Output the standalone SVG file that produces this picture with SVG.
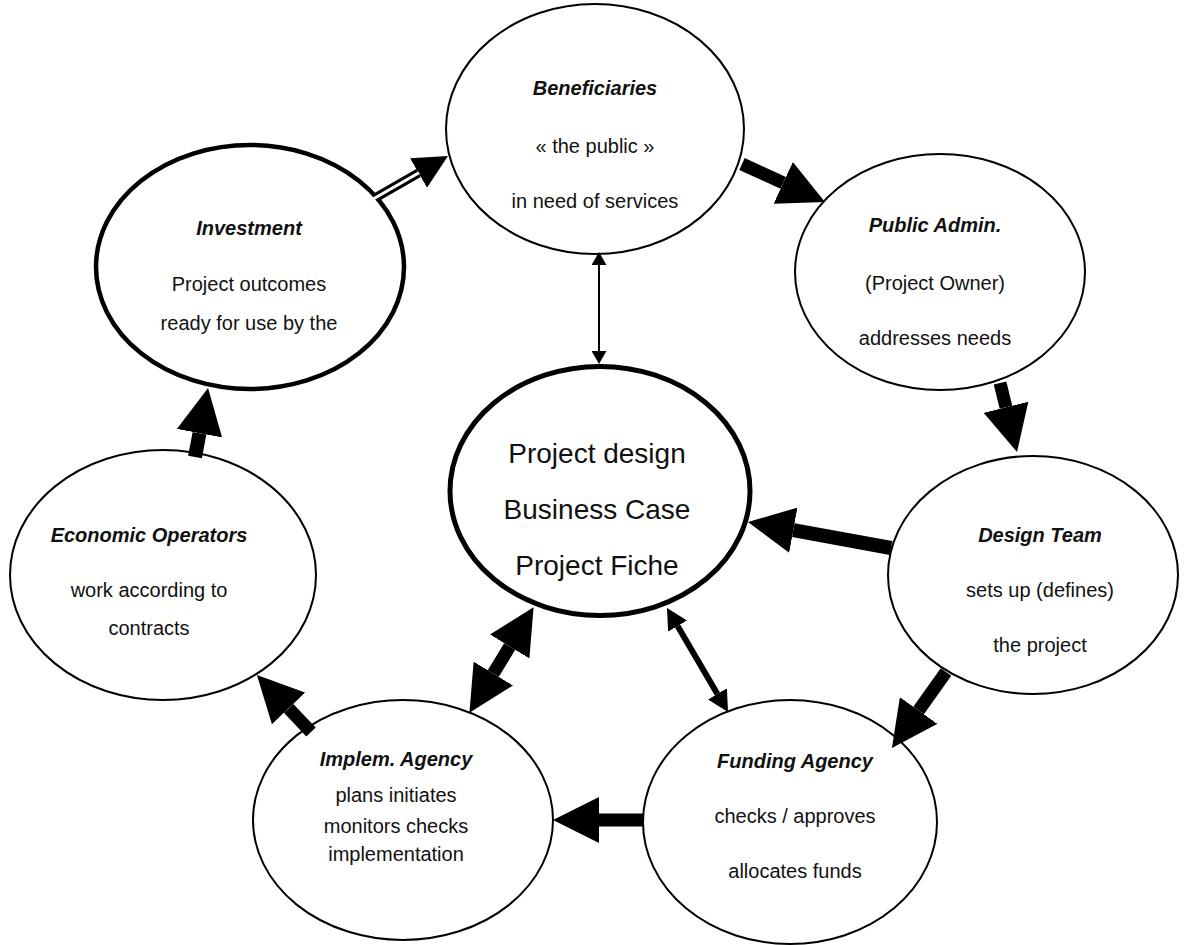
<svg xmlns="http://www.w3.org/2000/svg" width="1189" height="945" viewBox="0 0 1189 945">
<style>
.n{fill:#fff;stroke:#000;stroke-width:2}
.thick{stroke-width:4.5}
.t{font-family:"Liberation Sans",Arial,sans-serif;font-size:20px;text-anchor:middle;fill:#111}
.h{font-weight:bold;font-style:italic}
.c{font-size:28px}
.a{stroke:#000;fill:none}
</style>
<defs>
<marker id="big" markerUnits="userSpaceOnUse" viewBox="0 -23 46 46" markerWidth="46" markerHeight="46" refX="0" refY="0" orient="auto-start-reverse"><path d="M0,-23 L46,0 L0,23 z" fill="#000"/></marker>
<marker id="mid" markerUnits="userSpaceOnUse" viewBox="0 -17 34 34" markerWidth="34" markerHeight="34" refX="0" refY="0" orient="auto"><path d="M0,-17 L34,0 L0,17 z" fill="#000"/></marker>
<marker id="sm" markerUnits="userSpaceOnUse" viewBox="0 -11 21 22" markerWidth="21" markerHeight="22" refX="0" refY="0" orient="auto-start-reverse"><path d="M0,-11 L21,0 L0,11 z" fill="#000"/></marker>
<marker id="xs" markerUnits="userSpaceOnUse" viewBox="0 -7.5 13 15" markerWidth="13" markerHeight="15" refX="0" refY="0" orient="auto-start-reverse"><path d="M0,-7.5 L13,0 L0,7.5 z" fill="#000"/></marker>
</defs>
<g id="beneficiaries"><ellipse class="n" cx="595" cy="129" rx="149" ry="125"/>
<text class="t h" x="595" y="95">Beneficiaries</text><text class="t" x="595" y="153">« the public »</text><text class="t" x="595" y="208">in need of services</text></g>
<g id="investment"><ellipse class="n thick" cx="250" cy="267" rx="154" ry="122"/>
<text class="t h" x="249" y="235">Investment</text><text class="t" x="249" y="291">Project outcomes</text><text class="t" x="249" y="330">ready for use by the</text></g>
<g id="public-admin"><ellipse class="n" cx="940" cy="272" rx="145" ry="118"/>
<text class="t h" x="935" y="232">Public Admin.</text><text class="t" x="935" y="290">(Project Owner)</text><text class="t" x="935" y="345">addresses needs</text></g>
<g id="design-team"><ellipse class="n" cx="1033" cy="575" rx="145" ry="119"/>
<text class="t h" x="1040" y="542">Design Team</text><text class="t" x="1040" y="597">sets up (defines)</text><text class="t" x="1040" y="652">the project</text></g>
<g id="funding-agency"><ellipse class="n" cx="790" cy="822" rx="147" ry="122"/>
<text class="t h" x="795" y="768">Funding Agency</text><text class="t" x="795" y="823">checks / approves</text><text class="t" x="795" y="878">allocates funds</text></g>
<g id="implem-agency"><ellipse class="n" cx="403" cy="820" rx="150" ry="120"/>
<text class="t h" x="396" y="766">Implem. Agency</text><text class="t" x="396" y="802">plans initiates</text><text class="t" x="396" y="833">monitors checks</text><text class="t" x="396" y="861">implementation</text></g>
<g id="economic-operators"><ellipse class="n" cx="163" cy="575" rx="153" ry="125"/>
<text class="t h" x="149" y="542">Economic Operators</text><text class="t" x="149" y="597">work according to</text><text class="t" x="149" y="635">contracts</text></g>
<g id="project-design"><ellipse class="n" style="stroke-width:5" cx="600" cy="491" rx="150" ry="124.5"/>
<text class="t c" x="597" y="463">Project design</text><text class="t c" x="597" y="519">Business Case</text><text class="t c" x="597" y="575">Project Fiche</text></g>
<g id="connectors">
<line class="a" x1="375" y1="198" x2="418.5" y2="173" stroke-width="9" marker-end="url(#mid)"/>
<line x1="371" y1="200.3" x2="419" y2="172.7" stroke="#fff" stroke-width="3"/>
<line class="a" x1="742" y1="164" x2="783.2" y2="182.9" stroke-width="13" marker-end="url(#big)"/>
<line class="a" x1="1000" y1="383" x2="1006" y2="407.3" stroke-width="13" marker-end="url(#big)"/>
<line class="a" x1="891" y1="548" x2="793.3" y2="530.2" stroke-width="14" marker-end="url(#big)"/>
<line class="a" x1="946" y1="672" x2="918.6" y2="710.5" stroke-width="13" marker-end="url(#big)"/>
<line class="a" x1="644" y1="820" x2="599" y2="820" stroke-width="13" marker-end="url(#big)"/>
<line class="a" x1="311" y1="732" x2="288.6" y2="708.4" stroke-width="13" marker-end="url(#big)"/>
<line class="a" x1="195" y1="457" x2="199.5" y2="433.2" stroke-width="14" marker-end="url(#big)"/>
<line class="a" x1="509.7" y1="646.5" x2="493.3" y2="673.5" stroke-width="13" marker-start="url(#big)" marker-end="url(#big)"/>
<line class="a" x1="677.6" y1="626.1" x2="717.4" y2="693.9" stroke-width="6" marker-start="url(#sm)" marker-end="url(#sm)"/>
<line class="a" x1="599" y1="265" x2="599" y2="351" stroke-width="2" marker-start="url(#xs)" marker-end="url(#xs)"/>
</g>
</svg>
